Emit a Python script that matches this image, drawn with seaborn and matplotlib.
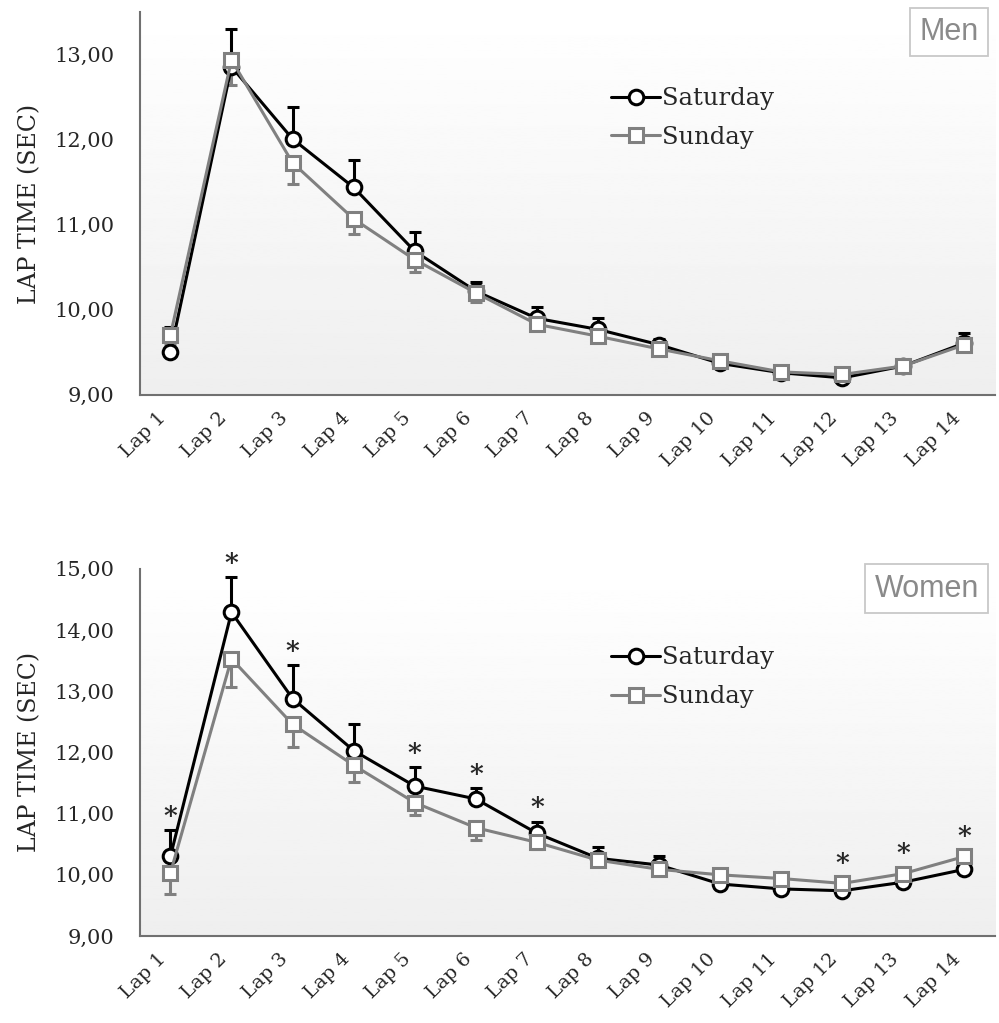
import numpy as np
import pandas as pd
import matplotlib
matplotlib.use("Agg")
import matplotlib.pyplot as plt
import seaborn as sns
from matplotlib.ticker import FuncFormatter, FixedLocator

# ---- data ----
laps = [f"Lap {i}" for i in range(1, 15)]

men_sat = [9.50, 12.86, 12.01, 11.44, 10.69, 10.22, 9.90, 9.77, 9.59, 9.37, 9.26, 9.20, 9.34, 9.61]
men_sun = [9.70, 12.94, 11.73, 11.07, 10.59, 10.20, 9.83, 9.69, 9.54, 9.40, 9.27, 9.24, 9.34, 9.59]
men_sat_err = [0.30, 0.44, 0.38, 0.32, 0.23, 0.11, 0.13, 0.14, 0.07, 0.05, 0.05, 0.05, 0.05, 0.12]
men_sun_err = [0.10, 0.29, 0.25, 0.18, 0.14, 0.11, 0.05, 0.05, 0.05, 0.05, 0.05, 0.05, 0.05, 0.05]

women_sat = [10.30, 14.29, 12.88, 12.03, 11.45, 11.24, 10.68, 10.27, 10.16, 9.85, 9.77, 9.74, 9.88, 10.09]
women_sun = [10.03, 13.53, 12.46, 11.79, 11.18, 10.77, 10.53, 10.24, 10.09, 10.00, 9.94, 9.86, 10.02, 10.30]
women_sat_err = [0.43, 0.57, 0.54, 0.44, 0.31, 0.18, 0.19, 0.19, 0.15, 0.08, 0.08, 0.08, 0.08, 0.08]
women_sun_err = [0.34, 0.46, 0.37, 0.28, 0.20, 0.20, 0.10, 0.08, 0.08, 0.08, 0.08, 0.08, 0.08, 0.08]
women_signif = [1, 2, 3, 5, 6, 7, 12, 13, 14]

days = ["Saturday", "Sunday"]
colors = {"Saturday": "#000000", "Sunday": "#808080"}
markers = {"Saturday": "o", "Sunday": "s"}

serif = "DejaVu Serif"

sns.set_style("white")
plt.rcParams["font.family"] = [serif]


def make_df(sat, sun):
    return pd.DataFrame({
        "lap": list(range(len(laps))) * 2,
        "time": sat + sun,
        "day": ["Saturday"] * len(laps) + ["Sunday"] * len(laps),
    })


def draw_panel(ax, sat, sun, sat_err, sun_err, ylim, yticks, title, leg_y, signif=None):
    # gradient background
    grad = np.linspace(1.0, 0.935, 256).reshape(-1, 1)
    ax.imshow(grad, extent=[0, 1, 0, 1], transform=ax.transAxes, cmap="gray",
              vmin=0, vmax=1, aspect="auto", zorder=0)

    df = make_df(sat, sun)
    x = np.arange(len(laps))
    n = len(laps)

    n0 = len(ax.lines)
    sns.lineplot(data=df, x="lap", y="time", hue="day", style="day",
                 palette=colors, markers=markers, dashes=False, hue_order=days,
                 linewidth=2.2, markersize=10.5, markerfacecolor="white",
                 markeredgecolor="black", markeredgewidth=2.2, ax=ax, legend=True)
    for line, d in zip(ax.lines[n0:n0 + 2], days):
        line.set_markeredgecolor(colors[d])
        line.set_zorder(3 if d == "Saturday" else 4)

    # error bars: Saturday up, Sunday down
    ax.errorbar(x, sat, yerr=[np.zeros(n), sat_err], fmt="none", ecolor=colors["Saturday"],
                elinewidth=2.2, capsize=4, capthick=2.2, zorder=2)
    ax.errorbar(x, sun, yerr=[sun_err, np.zeros(n)], fmt="none", ecolor=colors["Sunday"],
                elinewidth=2.2, capsize=4, capthick=2.2, zorder=2)

    ax.set_xlim(-0.5, n - 0.5)
    ax.set_ylim(*ylim)
    ax.xaxis.set_major_locator(FixedLocator(np.arange(-0.5, n, 1.0)))
    ax.xaxis.set_major_formatter(FuncFormatter(lambda v, p: ""))
    # labels sit a little left of the category centre, like the original
    ax.xaxis.set_minor_locator(FixedLocator(x - 0.22))
    ax.set_xticklabels(laps, minor=True, rotation=45, ha="right",
                       rotation_mode="anchor", fontsize=14)
    ax.tick_params(axis="x", which="minor", length=0, pad=10)
    ax.tick_params(axis="x", which="major", length=6, width=1.3, color="#606060")
    ax.set_yticks(yticks)
    ax.yaxis.set_major_formatter(FuncFormatter(lambda v, p: f"{v:.2f}".replace(".", ",")))
    ax.tick_params(axis="y", length=6, width=1.3, color="#606060", labelsize=15, pad=12)
    ax.set_xlabel("")
    ax.set_ylabel("LAP TIME (SEC)", fontsize=17, labelpad=10)

    sns.despine(ax=ax)
    for s in ["left", "bottom"]:
        ax.spines[s].set_color("#707070")
        ax.spines[s].set_linewidth(1.5)
        ax.spines[s].set_zorder(5)

    leg = ax.legend(loc="upper left", bbox_to_anchor=(0.54, leg_y), frameon=False,
                    fontsize=17.5, handlelength=2.0, handletextpad=0.1, labelspacing=0.65,
                    borderaxespad=0)
    for h, d in zip(leg.legend_handles, days):
        h.set_markeredgecolor(colors[d])
        h.set_markerfacecolor("white")

    ax.text(0.981, 0.987, title, transform=ax.transAxes, ha="right", va="top",
            fontsize=22, color="#8a8a8a", family="Liberation Sans",
            bbox=dict(boxstyle="square,pad=0.3", fc="white", ec="#c8c8c8", lw=1.3), zorder=6)

    if signif:
        for lap in signif:
            i = lap - 1
            top = max(sat[i] + sat_err[i], sun[i] + 0.1)
            ax.annotate("*", (i, top), xytext=(0, 1), textcoords="offset points",
                        ha="center", va="bottom", fontsize=19, fontweight="bold", zorder=6)


fig = plt.figure(figsize=(9.99, 10.23), dpi=100)
ax1 = fig.add_axes([0.140, 0.614, 0.856, 0.374])
ax2 = fig.add_axes([0.140, 0.085, 0.856, 0.359])

draw_panel(ax1, men_sat, men_sun, men_sat_err, men_sun_err, (9, 13.5),
           [9, 10, 11, 12, 13], "Men", 0.83)
draw_panel(ax2, women_sat, women_sun, women_sat_err, women_sun_err, (9, 15),
           [9, 10, 11, 12, 13, 14, 15], "Women", 0.815, signif=women_signif)

fig.savefig("out.png", dpi=100)
